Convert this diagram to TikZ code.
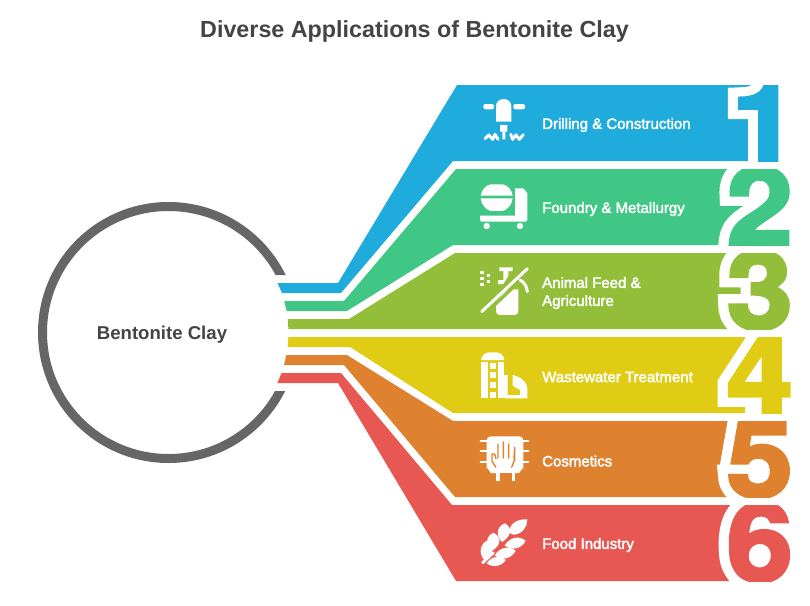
\documentclass[tikz,border=0pt]{standalone}
\usepackage{fontspec}
\setmainfont{Liberation Sans}
\newfontfamily\digW[BoldFeatures={FakeBold=20}]{TeX Gyre Heros}
\newfontfamily\digC[BoldFeatures={FakeBold=3}]{TeX Gyre Heros}
\newfontfamily\lblfont[FakeBold=2.5]{Liberation Sans}
\definecolor{cBlue}{HTML}{1FABDC}
\definecolor{cGreen}{HTML}{40C785}
\definecolor{cOlive}{HTML}{92BE3A}
\definecolor{cYellow}{HTML}{E0CC15}
\definecolor{cOrange}{HTML}{DE8230}
\definecolor{cRed}{HTML}{E85853}
\definecolor{cRing}{HTML}{666666}
\definecolor{cText}{HTML}{444444}
\tikzset{
 lbl/.style={anchor=west,inner sep=0pt,text=white,font=\lblfont\fontsize{15}{18}\selectfont,align=left},
 icon/.style={fill=white,draw=none},
 iconline/.style={draw=white,fill=none,line cap=round,line join=round},
}
% #1 name, #2 digit, #3 colour, #4 top, #5 bottom, #6 x anchor, #7 xscale
\newcommand{\bigdigit}[7]{%
 \begin{scope}
  \clip (700,#4) rectangle (810,#5);
  \node[anchor=base east,inner sep=0pt,text=white,xscale=#7,transform shape] (#1w) at (#6,#5) {\fontsize{108}{108}\digW\bfseries #2};
  \node[anchor=base east,inner sep=0pt,text=#3,xscale=#7,transform shape] (#1c) at (#6,#5) {\fontsize{108}{108}\digC\bfseries #2};
 \end{scope}}
\begin{document}
\begin{tikzpicture}[x=1pt,y=-1pt]
\useasboundingbox (0,0) rectangle (810,605);
\fill[white] (0,0) rectangle (810,605);
\node[inner sep=0pt,text=cText,font=\fontsize{23.3}{28}\selectfont\bfseries] (title) at (414.5,31.5) {Diverse Applications of Bentonite Clay};
% ring
\begin{scope}
 \clip (0,0) rectangle (240,605) (240,0) rectangle (810,275) (240,391) rectangle (810,605);
 \node[circle,draw=cRing,line width=9pt,minimum size=252pt,inner sep=0pt] (hub) at (168.5,332.5) {};
\end{scope}
\node[inner sep=0pt,text=cText,font=\fontsize{18.6}{22}\selectfont\bfseries] (hubtext) at (162,334.5) {Bentonite Clay};
% bands
\fill[cBlue] (277.6,283) -- (338,283) -- (457,85) -- (758,85) -- (758,161) -- (453,161) -- (341,293) -- (281.9,293) -- cycle;
\fill[cGreen] (284.3,301) -- (344,301) -- (456,169) -- (745,169) -- (745,245) -- (453,245) -- (347,311) -- (286.6,311) -- cycle;
\fill[cOlive] (287.7,319) -- (349,319) -- (455,253) -- (745,253) -- (745,329) -- (288.4,329) -- cycle;
\fill[cYellow] (288.4,337) -- (745,337) -- (745,413) -- (453,413) -- (350,347) -- (287.6,347) -- cycle;
\fill[cOrange] (286.4,355) -- (347,355) -- (453,421) -- (745,421) -- (745,497) -- (455,497) -- (344,365) -- (284,365) -- cycle;
\fill[cRed] (281.5,373) -- (341,373) -- (452,505) -- (745,505) -- (745,581) -- (456,581) -- (338,383) -- (277.4,383) -- cycle;
% digits
\bigdigit{dOne}{1}{cBlue}{85}{161}{798}{1.1}
\bigdigit{dTwo}{2}{cGreen}{169}{245}{793}{1.1}
\bigdigit{dThree}{3}{cOlive}{253}{329}{793}{1.1}
\bigdigit{dFour}{4}{cYellow}{337}{413}{793}{1.1}
\bigdigit{dFive}{5}{cOrange}{421}{497}{793}{1.1}
\bigdigit{dSix}{6}{cRed}{505}{581}{793}{1.1}
% labels
\node[lbl] (l1) at (542,125) {Drilling \& Construction};
\node[lbl] (l2) at (542,209) {Foundry \& Metallurgy};
\node[lbl] (l3) at (542,293) {Animal Feed \&\\Agriculture};
\node[lbl] (l4) at (542,377) {Wastewater Treatment};
\node[lbl] (l5) at (542,461) {Cosmetics};
\node[lbl] (l6) at (542,545) {Food Industry};
% icon 1 drill
\begin{scope}[shift={(470,90)},x=0.3333pt,y=-0.3333pt]
 \fill[icon] (78,95) -- (78,49) .. controls (78,20) and (124,20) .. (124,49) -- (124,95) -- cycle;
 \fill[icon,rounded corners=2pt] (40,42) rectangle (72,58);
 \fill[icon,rounded corners=2pt] (130,42) rectangle (165,58);
 \fill[icon] (90,105) -- (112,105) -- (112,125) -- (106,125) -- (106,148) -- (97,148) -- (97,125) -- (90,125) -- cycle;
 \draw[iconline,line width=3pt] (45,146) -- (56,135) -- (68,148) -- (75,133) -- (84,148);
 \draw[iconline,line width=3pt] (122,133) -- (128,148) -- (138,135) -- (148,148) -- (160,134);
\end{scope}
% icon 2 mixer
\begin{scope}[shift={(470,175)},x=0.3333pt,y=-0.3333pt]
 \fill[icon] (32,62) .. controls (34,45) and (48,30) .. (62,28) -- (98,28) .. controls (112,30) and (126,45) .. (128,62) -- cycle;
 \fill[icon] (32,70) -- (128,70) .. controls (126,90) and (112,104) .. (98,108) -- (62,108) .. controls (48,104) and (34,90) .. (32,70) -- cycle;
 \fill[icon] (135,40) -- (160,40) -- (172,55) -- (172,135) -- (168,140) -- (34,140) -- (30,135) -- (30,122) -- (135,122) -- cycle;
 \fill[icon] (50,153) circle[radius=3.2pt];
 \fill[icon] (150,153) circle[radius=3.2pt];
\end{scope}
% icon 3 sprayer
\begin{scope}[shift={(470,260)},x=0.3333pt,y=-0.3333pt]
 \foreach \a/\b in {30/32,30/50,30/68,50/41,50/59}{\fill[icon] (\a,\b) rectangle ++(11,11);}
 \fill[icon] (78,150) -- (78,125) -- (104,98) -- (120,88) -- (145,88) -- (145,150) .. controls (145,160) and (140,165) .. (135,165) -- (88,165) .. controls (83,165) and (78,160) .. (78,150) -- cycle;
 \fill[icon] (88,22) -- (128,22) -- (128,33) -- (115,33) -- (115,48) -- (100,72) -- (84,72) -- (84,60) -- (100,60) -- (100,33) -- (88,33) -- cycle;
 \draw[cOlive,line width=3pt] (42,165) -- (185,30);
 \draw[iconline,line width=3pt] (35,155) -- (172,26);
 \draw[iconline,line width=3pt] (150,60) .. controls (165,68) and (170,80) .. (172,95);
\end{scope}
% icon 4 silo
\begin{scope}[shift={(470,345)},x=0.3333pt,y=-0.3333pt]
 \fill[icon] (33,45) .. controls (35,28) and (50,22) .. (60,22) -- (78,22) .. controls (90,22) and (102,30) .. (103,45) -- cycle;
 \fill[icon] (33,50) rectangle (53,160);
 \fill[icon] (83,50) rectangle (101,160);
 \foreach \b/\c in {55/72,82/100,112/130,140/160}{\fill[icon] (60,\b) rectangle (78,\c);}
 \fill[icon] (101,90) -- (113,90) -- (113,150) -- (150,150) -- (150,135) -- (128,122) -- (128,90) .. controls (150,95) and (172,110) .. (172,130) -- (172,160) -- (101,160) -- cycle;
\end{scope}
% icon 5 hand chip
\begin{scope}[shift={(470,428)},x=0.3333pt,y=-0.3333pt]
 \fill[icon,rounded corners=4pt] (50,25) rectangle (160,135);
 \foreach \y in {40,70,102}{\draw[iconline,line width=2.2pt] (32,\y) -- (50,\y); \draw[iconline,line width=2.2pt] (160,\y) -- (175,\y);}
 \fill[cOrange] (90,135) rectangle (125,170);
 \fill[cOrange] (50,118) -- (62,135) -- (50,135) -- cycle;
 \fill[cOrange] (160,118) -- (148,135) -- (160,135) -- cycle;
 \draw[cOrange,line width=1.4pt,line join=round,line cap=round] (78,118) -- (66,100) -- (66,78) (66,78) -- (74,78) -- (78,92) (84,90) -- (84,48) (100,90) -- (100,42) (116,90) -- (116,48) (132,92) -- (134,58) (134,58) -- (134,95) -- (125,118);
 \draw[iconline,line width=3.2pt,line cap=butt] (84,118) -- (84,160);
 \draw[iconline,line width=3.2pt,line cap=butt] (130,118) -- (130,160);
\end{scope}
% icon 6 wheat
\begin{scope}[shift={(470,510)},x=0.3333pt,y=-0.3333pt]
 \draw[iconline,line width=3pt] (38,158) -- (70,128);
 \fill[icon] (172,28) .. controls (145,26) and (118,40) .. (118,64) .. controls (120,72) and (125,74) .. (132,74) .. controls (158,72) and (172,50) .. (172,28) -- cycle;
 \fill[icon] (105,40) .. controls (78,50) and (78,78) .. (96,96) .. controls (122,80) and (130,55) .. (105,40) -- cycle;
 \fill[icon] (70,68) .. controls (46,80) and (46,106) .. (64,124) .. controls (92,108) and (98,82) .. (70,68) -- cycle;
 \fill[icon] (48,93) .. controls (26,110) and (28,136) .. (45,152) .. controls (72,135) and (72,110) .. (48,93) -- cycle;
 \fill[icon] (167,92) .. controls (145,74) and (118,84) .. (104,106) .. controls (125,124) and (155,116) .. (167,92) -- cycle;
 \fill[icon] (137,122) .. controls (115,104) and (88,114) .. (74,136) .. controls (95,154) and (125,146) .. (137,122) -- cycle;
 \fill[icon] (107,150) .. controls (88,132) and (64,140) .. (50,160) .. controls (70,174) and (95,170) .. (107,150) -- cycle;
\end{scope}
\end{tikzpicture}
\end{document}
